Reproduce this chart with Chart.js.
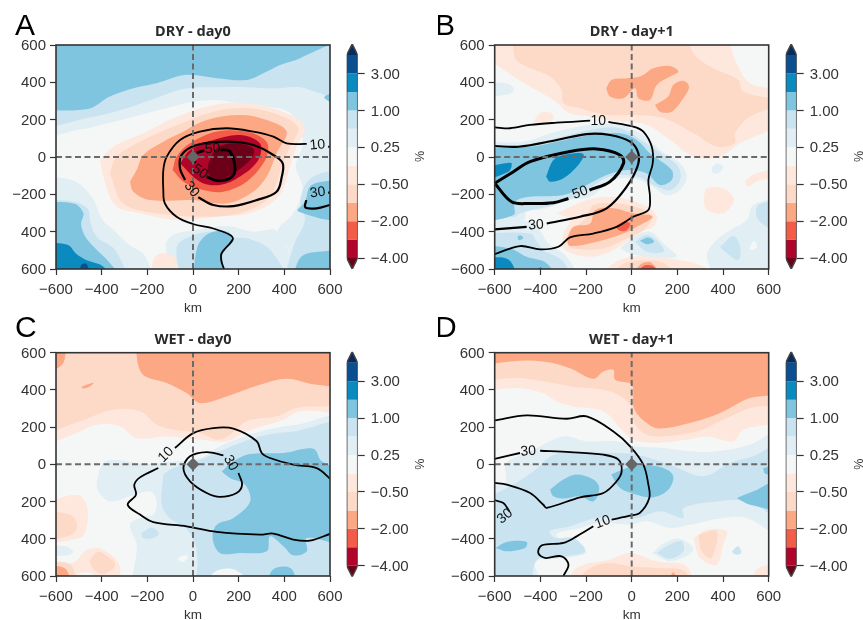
<!DOCTYPE html>
<html>
<head>
<meta charset="utf-8">
<style>
  html, body { margin: 0; padding: 0; background: #fff; width: 863px; height: 620px; overflow: hidden; }
  canvas { position: absolute; }
</style>
<script src="https://cdn.jsdelivr.net/npm/chart.js@4/dist/chart.umd.min.js"></script>
</head>
<body>
<canvas id="panelA"></canvas><canvas id="barA"></canvas>
<canvas id="panelB"></canvas><canvas id="barB"></canvas>
<canvas id="panelC"></canvas><canvas id="barC"></canvas>
<canvas id="panelD"></canvas><canvas id="barD"></canvas>
<script>
// colour bar: band edges from bottom to top, ticks sit on every second edge
const bandColors = ['#6d0019', '#b0052a', '#f25c48', '#fda884', '#fddac7', '#fee8de', '#f5f7f7',
                    '#e1eef4', '#c9e3f0', '#7fc5e0', '#0a8abf', '#0a4f8f', '#052c5f'];
const barTickEdges = [0, 2, 4, 6, 8, 10];
const barTickLabels = ['\u22124.00', '\u22122.00', '\u22120.50', '0.25', '1.00', '3.00'];
const R4 = 0, R3 = 1, R2 = 2, R1 = 3, P2 = 4, P1 = 5, WH = 6, B1 = 7, B2 = 8, B3 = 9, B4 = 10, B5 = 11;

const xTickValues = [-600, -400, -200, 0, 200, 400, 600];
const xTickLabels = ['\u2212600', '\u2212400', '\u2212200', '0', '200', '400', '600'];
const yLabelsA = ['600', '400', '\u2212200', '0', '200', '400', '600'];
const yLabelsB = ['\u2212600', '\u2212400', '\u2212200', '0', '200', '400', '600'];
const yLabelsC = ['600', '400', '200', '0', '200', '400', '600'];
const yLabelsD = ['\u2212600', '\u2212400', '\u2212200', '0', '200', '400', '600'];

// filled contour regions, painted in order: [band, x,y x,y ...] in km
const shapesA = [
  [B1, [-600,600, 600,600, 600,-600, 430,-600, 420,-500, 370,-400, 440,-300, 480,-170, 450,-50, 480,60, 470,150, 420,240, 322,270, 206,287, 104,305, 0,296, -86,272, -232,225, -407,170, -480,150, -600,135]],
  [B1, [-600,-100, -520,-130, -440,-220, -400,-330, -340,-400, -280,-470, -210,-530, -190,-600, -600,-600]],
  [B1, [-70,-600, -120,-480, -90,-420, 20,-390, 150,-370, 260,-400, 370,-400, 430,-600]],
  [B2, [-600,600, 600,600, 600,306, 556,341, 469,374, 352,368, 235,374, 118,374, -28,368, -145,324, -290,261, -437,216, -600,190]],
  [B2, [600,-60, 520,-110, 470,-230, 490,-340, 440,-480, 420,-600, 600,-600]],
  [B2, [-50,-600, -70,-480, 0,-420, 100,-400, 170,-430, 250,-440, 340,-500, 400,-600]],
  [B2, [-600,-230, -520,-240, -460,-280, -450,-350, -420,-430, -340,-500, -300,-600, -600,-600]],
  [B3, [-600,600, 600,600, 469,529, 381,493, 323,458, 235,413, 104,422, -28,440, -159,395, -261,368, -364,324, -466,256, -600,292]],
  [B3, [600,360, 575,320, 600,270]],
  [B3, [600,-120, 520,-150, 490,-240, 460,-290, 600,-330]],
  [B3, [430,-600, 470,-540, 530,-510, 600,-520, 600,-600]],
  [B3, [0,-600, 20,-480, 70,-410, 150,-400, 175,-450, 130,-510, 130,-600]],
  [B3, [-600,-240, -520,-250, -480,-300, -490,-360, -470,-430, -420,-500, -370,-560, -310,-600, -600,-600]],
  [B4, [-600,-460, -550,-470, -510,-520, -470,-550, -390,-590, -370,-600, -600,-600]],
  [B5, [-500,-600, -490,-580, -465,-575, -450,-600]],
  [P1, [-190,-600, -170,-540, -130,-515, -80,-540, -70,-600]],
  [P1, [-407,-16, -349,55, -218,127, -72,216, 89,279, 250,288, 410,234, 490,163, 454,55, 425,-52, 374,-213, 250,-302, 104,-320, -72,-338, -232,-302, -340,-260, -393,-105]],
  [P2, [-364,-88, -334,2, -218,91, -86,163, 89,243, 250,261, 395,216, 461,154, 425,55, 388,-52, 337,-213, 206,-302, 30,-320, -159,-302, -305,-249]],
  [R1, [-276,-132, -247,-70, -218,11, -130,82, -57,127, 60,198, 206,225, 323,198, 410,136, 366,20, 323,-105, 264,-186, 147,-249, 0,-231, -188,-231, -261,-186]],
  [R2, [-89,-70, -72,2, -13,73, 104,136, 235,136, 315,91, 330,46, 308,-34, 235,-132, 133,-186, 45,-177, -42,-132]],
  [R3, [-57,-34, -13,38, 89,91, 206,118, 293,73, 286,-16, 206,-105, 118,-150, 30,-132]],
  [R4, [67,-34, 104,46, 177,73, 264,46, 257,-7, 177,-88, 104,-123, 67,-88]]
];
const contoursA = [
  [1.8, [498,70, 410,73, 352,109, 264,136, 147,154, 30,136, -57,91, -115,2, -130,-70, -130,-177, -123,-249, -72,-320, 0,-359, 89,-383, 163,-418, 174,-442, 125,-517, 125,-561, 136,-600]],
  [1.8, [592,55, 600,55]],
  [2.2, [-35,-123, -57,-61, -50,11, 16,64, 147,82, 264,64, 352,11, 393,-34, 389,-105, 366,-186, 279,-231, 177,-263, 89,-257, 23,-216]],
  [2.2, [600,-257, 542,-275, 492,-270, 496,-231]],
  [2.2, [592,-191, 600,-191]],
  [2.8, [16,23, 50,35]],
  [2.8, [120,40, 162,29, 184,-70, 162,-114, 104,-127, 60,-105]],
  [2.8, [0,0, 10,-30]]
];
const labelsA = [[545,64,'10',-5], [-6,-173,'30',52], [546,-191,'30',-8], [86,43,'50',-5], [31,-79,'50',35]];

const shapesB = [
  [P1, [-600,560, -518,431, -445,377, -343,306, -270,234, -182,216, -66,190, 66,172, 168,91, 270,2, 387,2, 474,73, 600,198, 600,342, 518,395, 460,502, 387,600, -555,600]],
  [P2, [-518,600, -511,529, -460,485, -358,431, -307,359, -299,288, -226,261, -110,225, -7,225, 139,207, 280,120, 372,55, 452,73, 452,127, 518,216, 600,288, 600,300, 489,350, 467,413, 343,485, 270,556, 226,600]],
  [R1, [-112,368, -88,413, -22,422, 36,431, 95,476, 168,488, 204,458, 168,431, 110,386, 80,306, 29,315, 15,368, -36,315, -95,324]],
  [R1, [102,279, 160,324, 182,386, 226,408, 251,377, 226,315, 175,243, 124,243]],
  [P1, [-430,190, -400,235, -350,235, -345,200, -400,180]],
  [B1, [-600,400, -550,395, -515,365, -540,335, -600,335]],
  [B1, [-600,85, -474,82, -328,136, -182,172, -51,172, 51,118, 124,38, 212,-34, 241,-105, 212,-177, 153,-204, 80,-150, 7,-114, -80,-123, -182,-213, -270,-231, -401,-284, -460,-275, -474,-338, -600,-338]],
  [B2, [-600,62, -474,55, -328,100, -182,145, -51,154, 51,82, 139,11, 204,-52, 212,-123, 168,-177, 110,-159, 22,-105, -95,-105, -197,-177, -299,-240, -489,-302, -511,-320, -600,-320]],
  [B3, [-600,46, -445,55, -328,82, -182,118, -51,127, 22,91, 80,20, 175,-70, 175,-123, 124,-150, 66,-88, -22,-70, -110,-97, -197,-150, -299,-204, -445,-213, -511,-240, -518,-311, -600,-320]],
  [B4, [-375,-105, -343,-16, -299,11, -212,16, -234,-43, -299,-114, -358,-132]],
  [B4, [-600,-61, -555,-34, -526,-34, -540,-79, -600,-123]],
  [B1, [-600,-356, -489,-338, -416,-374, -365,-463, -285,-535, -241,-600, -600,-600]],
  [B2, [-600,-410, -445,-410, -416,-454, -387,-499, -299,-561, -277,-600, -600,-600]],
  [B3, [-600,-472, -533,-490, -460,-535, -372,-570, -328,-600, -600,-600]],
  [B3, [-500,-425, -485,-420, -475,-435, -495,-445]],
  [B4, [-600,-544, -540,-549, -511,-600, -600,-600]],
  [B4, [-430,-600, -400,-590, -370,-600]],
  [P1, [-328,-302, -197,-231, -95,-213, -7,-231, 80,-275, 110,-320, 95,-374, 22,-410, -66,-490, -182,-535, -299,-490, -299,-410, -270,-338]],
  [P2, [-277,-410, -197,-320, -168,-257, -66,-249, 36,-275, 88,-320, 51,-392, -36,-445, -124,-490, -255,-490, -285,-454]],
  [R1, [-285,-445, -255,-374, -182,-356, -160,-284, -80,-275, 7,-302, 92,-320, 22,-374, -36,-410, -153,-454, -270,-477]],
  [R2, [-73,-374, -36,-347, -7,-356, -22,-392, -51,-395]],
  [P1, [-160,-600, -60,-555, 60,-530, 170,-545, 300,-580, 380,-600]],
  [P2, [-100,-600, -40,-575, 70,-555, 150,-575, 200,-600]],
  [R1, [-20,-600, 40,-575, 90,-570, 130,-600]],
  [R2, [0,-600, 50,-585, 100,-590, 120,-600]],
  [B1, [-51,-490, 7,-427, 80,-400, 139,-463, 197,-535, 80,-535, -7,-517]],
  [B2, [15,-454, 66,-418, 124,-463, 139,-508, 66,-508]],
  [B3, [36,-449, 73,-431, 98,-454, 66,-467]],
  [B1, [600,-213, 533,-257, 504,-338, 431,-392, 372,-445, 329,-535, 401,-600, 600,-600]],
  [B2, [387,-481, 445,-424, 475,-481, 467,-552, 401,-499]],
  [B2, [600,-231, 555,-257, 555,-338, 600,-410]],
  [WH, [515,-490, 535,-450, 550,-480, 530,-500]],
  [B1, [350,-60, 372,-35, 400,-50, 385,-85, 355,-85]],
  [P1, [495,-130, 540,-90, 600,-60, 600,-100, 550,-130, 510,-160]],
  [P1, [314,-231, 329,-168, 401,-168, 448,-231, 401,-302, 329,-284]]
];
const contoursB = [
  [1.8, [-600,159, -533,154, -445,172, -328,184, -182,195]],
  [1.8, [-102,188, 7,163, 51,136, 88,55, 92,-34, 73,-123, 80,-213, 73,-284, 7,-320, -66,-374, -168,-410, -270,-431, -321,-481, -401,-495, -489,-477, -600,-520]],
  [2.2, [-600,-388, -460,-374]],
  [2.2, [-372,-356, -226,-320, -110,-275, -22,-159, 25,-52, 29,20, -7,82, -95,118, -197,123, -328,91, -496,55, -600,59]],
  [3, [-600,-141, -526,-240, -445,-249, -343,-245, -277,-222]],
  [3, [-185,-177, -95,-132, -36,-34, -51,11, -153,43, -270,29, -445,-25, -518,-79, -600,-141]]
];
const labelsB = [[-146,190,'10',0], [-419,-365,'30',-4], [-226,-191,'50',-20]];

const shapesC = [
  [P1, [-600,88, -510,168, -422,213, -320,204, -247,141, -115,150, 31,132, 147,124, 235,177, 396,240, 469,285, 600,302, 600,600, -600,600]],
  [P2, [-600,150, -495,231, -349,294, -232,285, -159,213, -86,186, 31,168, 104,132, 162,159, 235,231, 366,258, 454,303, 600,347, 600,600, -600,600]],
  [R1, [-254,600, -225,490, -115,437, -28,383, 31,329, 147,365, 293,428, 410,460, 542,428, 600,437, 600,600]],
  [R1, [-600,600, -575,600, -570,540, -600,500]],
  [R1, [-490,415, -460,430, -435,440, -450,420, -480,408]],
  [P1, [-600,-217, -510,-163, -466,-217, -466,-342, -495,-396, -600,-405]],
  [P2, [-600,-245, -540,-270, -510,-310, -515,-360, -560,-390, -600,-390]],
  [P1, [-600,-510, -530,-530, -465,-460, -400,-455, -320,-545, -350,-600, -400,-600, -440,-590, -500,-590, -540,-600, -600,-600]],
  [P2, [-455,-520, -420,-470, -390,-480, -340,-540, -390,-590, -430,-570]],
  [P2, [-600,-525, -550,-530, -520,-570, -520,-600, -600,-600]],
  [R1, [-600,-545, -560,-560, -545,-600, -600,-600]],
  [B1, [-422,-91, -393,7, -334,25, -218,2, -130,10, 31,34, 104,88, 206,141, 323,186, 454,213, 600,240, 600,-600, -239,-600, -247,-431, -276,-324, -232,-288, -174,-270, -159,-199, -188,-145, -276,-172, -364,-199, -415,-145]],
  [B1, [-600,-440, -560,-440, -525,-470, -555,-490, -600,-480]],
  [B2, [-130,-55, -86,-20, 31,25, 118,70, 206,115, 323,159, 440,177, 600,204, 600,-600, 30,-600, 20,-520, 10,-430, -30,-345, -101,-290, -137,-217]],
  [B2, [-225,-370, -180,-340, -150,-375, -190,-400, -220,-395]],
  [B3, [126,-38, 177,16, 250,55, 396,61, 527,84, 564,16, 600,-55, 600,-413, 498,-396, 498,-467, 439,-489, 396,-440, 337,-387, 323,-467, 206,-476, 118,-476, 86,-396, 104,-324, 177,-288, 250,-199, 228,-109, 162,-73]],
  [B3, [323,-600, 350,-565, 430,-560, 445,-600]],
  [WH, [40,-600, 100,-575, 190,-570, 260,-600]],
  [WH, [-70,-510, -45,-490, -20,-495, -45,-525]]
];
const contoursC = [
  [1.8, [-79,88, 1,168, 89,195, 177,192, 279,124, 301,61, 337,34, 439,-2, 542,-20, 600,-77]],
  [1.8, [-152,-20, -232,-70, -257,-109, -250,-163, -286,-217, -232,-270, -174,-310, -28,-333, 104,-363, 293,-378, 352,-372, 439,-404, 512,-410, 600,-374]],
  [1.8, [133,48, 60,66, -13,43, -42,-20, -13,-91, 60,-154, 118,-175, 191,-154, 215,-109, 199,-47]]
];
const labelsC = [[-118,52,'10',-45], [165,7,'30',60]];

const shapesD = [
  [B1, [-555,0, -533,25, -445,70, -299,150, -197,124, -66,124, 7,97, 139,88, 255,70, 372,70, 518,106, 600,186, 600,-380, 504,-288, 401,-288, 255,-324, 168,-342, 66,-306, -7,-324, -139,-315, -226,-342, -330,-380, -200,-470, -270,-500, -400,-510, -431,-521, -416,-575, -401,-600, -600,-600, -600,-100, -559,-109]],
  [B2, [-600,-199, -533,-118, -431,-38, -330,55, -95,61, 22,52, 168,-2, 314,-64, 431,7, 533,43, 600,115, 600,-306, 518,-199, 372,-199, 226,-234, 226,-288, 124,-252, 22,-288, -153,-288, -270,-333, -358,-360, -336,-396, -255,-396, -204,-467, -299,-494, -401,-503, -431,-557, -440,-600, -600,-600]],
  [B3, [-90,-55, -22,-20, 51,-5, 139,-20, 182,-64, 160,-136, 95,-177, 22,-163, -51,-127]],
  [B3, [-358,-136, -299,-82, -241,-55, -168,-82, -142,-127, -168,-199, -226,-172, -299,-184, -343,-172]],
  [B3, [460,-181, 533,-145, 600,-73, 600,-238, 518,-217]],
  [B3, [575,-20, 600,0, 600,-60, 585,-50]],
  [B3, [-596,-449, -548,-417, -460,-417, -467,-449, -548,-467]],
  [B1, [90,-476, 140,-425, 210,-400, 270,-460, 170,-520]],
  [B2, [110,-476, 153,-440, 219,-413, 226,-467, 168,-507]],
  [B2, [438,-470, 465,-440, 480,-475, 455,-485]],
  [P1, [-285,-600, -241,-557, -95,-512, -7,-476, 110,-521, 241,-548, 255,-600]],
  [P2, [-270,-600, -182,-557, -95,-530, -7,-548, 110,-557, 234,-575, 241,-600]],
  [R1, [153,-600, 182,-580, 204,-600]],
  [P1, [270,-396, 329,-351, 416,-360, 401,-431, 372,-539, 299,-503]],
  [P2, [292,-378, 372,-360, 350,-503, 307,-467]],
  [P1, [518,-600, 555,-557, 600,-557, 600,-600]],
  [P1, [-600,383, -518,410, -387,383, -329,338, -255,311, -124,285, -51,195, 7,132, 110,115, 241,132, 329,150, 445,124, 489,186, 600,258, 600,600, -600,600]],
  [P2, [-600,446, -504,464, -387,446, -270,419, -95,392, -7,320, 7,231, 51,168, 124,150, 285,177, 401,240, 518,303, 600,347, 600,600, -600,600]],
  [R1, [-600,526, -533,553, -387,553, -270,517, -168,460, -124,499, -80,508, -73,455, 0,428, 10,302, 66,222, 124,192, 270,227, 387,276, 518,356, 600,401, 600,600, -600,600]]
];
const contoursD = [
  [1.8, [-600,236, -460,263, -285,245, -197,258, -80,177, -7,97, 51,-2, 73,-109, 77,-181, 36,-261, -7,-276, -88,-297]],
  [1.8, [-168,-333, -241,-387, -299,-422, -394,-435, -409,-476, -380,-503, -307,-494, -277,-539, -299,-600]],
  [1.8, [-600,30, -489,61]],
  [1.8, [-401,73, -270,66, -124,52, -58,25, -44,-38, -66,-91, -124,-154, -226,-177, -372,-234, -387,-217, -445,-154, -548,-109, -600,-100]],
  [1.8, [-600,-193, -562,-208, -536,-252]]
];
const labelsD = [[-127,-311,'10',-20], [-453,70,'30',-4], [-555,-279,'30',-40]];

const plotCorners = [-600,-600, 600,-600, 600,600, -600,600];
const dotX = [0];
const dotY = [0];

const labelFont = '"Liberation Sans", Arial, sans-serif';
const inkColor = '#333333';

// points on the plot edge get pushed out, the spline would round the corner off otherwise
function ring(flat) {
  const pts = [];
  for (let i = 0; i < flat.length; i += 2) {
    const px = Math.abs(flat[i]) >= 600 ? flat[i] * 1.12 : flat[i];
    const py = Math.abs(flat[i + 1]) >= 600 ? flat[i + 1] * 1.12 : flat[i + 1];
    pts.push({x: px, y: py});
  }
  pts.push({x: pts[0].x, y: pts[0].y});
  return pts;
}

function path(flat) {
  const pts = [];
  for (let i = 0; i < flat.length; i += 2) pts.push({x: flat[i], y: flat[i + 1]});
  return pts;
}

const panelDecor = {
  id: 'panelDecor',
  afterDatasetsDraw(chart, args, opts) {
    const ctx = chart.ctx;
    const area = chart.chartArea;
    ctx.save();
    ctx.strokeStyle = inkColor;
    ctx.lineWidth = 1.6;
    ctx.strokeRect(area.left, area.top, area.width, area.height);

    ctx.fillStyle = '#111';
    ctx.font = '14px ' + labelFont;
    ctx.textAlign = 'center';
    ctx.textBaseline = 'middle';
    opts.labels.forEach(l => {
      ctx.save();
      ctx.translate(chart.scales.x.getPixelForValue(l[0]), chart.scales.y.getPixelForValue(l[1]));
      ctx.rotate(l[3] * Math.PI / 180);
      ctx.fillText(l[2], 0, 0);
      ctx.restore();
    });

    ctx.fillStyle = '#2b2b2b';
    ctx.font = 'bold 14.5px "Noto Sans", sans-serif';
    ctx.fillText(opts.title, (area.left + area.right) / 2, area.top - 13);

    ctx.fillStyle = '#000';
    ctx.font = '30px ' + labelFont;
    ctx.textAlign = 'left';
    ctx.textBaseline = 'alphabetic';
    ctx.fillText(opts.letter, opts.letterX, opts.letterY);
    ctx.restore();
  }
};

function makePanel(id, place, title, letter, yLabels, shapes, contours, labels) {
  const canvas = document.getElementById(id);
  canvas.width = place.w;
  canvas.height = place.h;
  canvas.style.left = place.left + 'px';
  canvas.style.top = place.top + 'px';

  const datasets = [];
  [[WH, plotCorners]].concat(shapes).forEach((s, i) => datasets.push({
    data: ring(s[1]), showLine: true, fill: 'shape', tension: i === 0 ? 0 : 0.35,
    backgroundColor: bandColors[s[0]], borderWidth: 0, pointRadius: 0
  }));
  contours.forEach(c => datasets.push({
    data: path(c[1]), showLine: true, fill: false, tension: 0.35,
    borderColor: '#000', borderWidth: c[0], pointRadius: 0
  }));
  datasets.push({
    data: [{x: -600, y: 0}, {x: 600, y: 0}], showLine: true, fill: false,
    borderColor: '#6a6a6a', borderWidth: 2, borderDash: [6, 3.5], pointRadius: 0
  });
  datasets.push({
    data: [{x: 0, y: -600}, {x: 0, y: 600}], showLine: true, fill: false,
    borderColor: '#6a6a6a', borderWidth: 2, borderDash: [6, 3.5], pointRadius: 0
  });
  datasets.push({
    data: dotX.map((v, i) => ({x: v, y: dotY[i]})), showLine: false,
    pointStyle: 'rectRot', pointRadius: 6.5, backgroundColor: '#666', borderWidth: 0
  });

  const tickStyle = {display: true, drawOnChartArea: false, drawTicks: true, tickLength: 6, tickColor: inkColor, tickWidth: 1.2};
  new Chart(canvas, {
    type: 'scatter',
    data: {datasets: datasets.reverse()},
    options: {
      responsive: false,
      animation: false,
      layout: {padding: {top: place.plotTop, right: place.w - place.plotRight, left: 0, bottom: 0}},
      plugins: {
        legend: {display: false},
        tooltip: {enabled: false},
        panelDecor: {labels: labels, title: title, letter: letter, letterX: place.letterX, letterY: place.letterY}
      },
      scales: {
        x: {
          type: 'linear', min: -600, max: 600,
          afterFit(s) { s.height = place.h - place.plotBottom; s.paddingLeft = 0; s.paddingRight = 0; },
          afterBuildTicks(s) { s.ticks = xTickValues.map(v => ({value: v})); },
          grid: tickStyle, border: {display: false},
          ticks: {
            color: inkColor, font: {family: labelFont, size: 15}, padding: 6, maxRotation: 0, autoSkip: false,
            callback: v => xTickLabels[xTickValues.indexOf(v)]
          },
          title: {display: true, text: 'km', color: inkColor, font: {family: labelFont, size: 13.5}, padding: 0}
        },
        y: {
          type: 'linear', min: -600, max: 600,
          afterFit(s) { s.width = place.plotLeft; s.paddingTop = 0; s.paddingBottom = 0; },
          afterBuildTicks(s) { s.ticks = xTickValues.map(v => ({value: v})); },
          grid: tickStyle, border: {display: false},
          ticks: {
            color: inkColor, font: {family: labelFont, size: 15}, padding: 4, autoSkip: false, labelOffset: 1,
            callback: v => yLabels[xTickValues.indexOf(v)]
          }
        }
      }
    },
    plugins: [panelDecor]
  });
}

const barDecor = {
  id: 'barDecor',
  afterDraw(chart) {
    const ctx = chart.ctx;
    ctx.save();
    ctx.fillStyle = inkColor;
    ctx.font = '12.5px ' + labelFont;
    ctx.textAlign = 'center';
    ctx.textBaseline = 'middle';
    ctx.translate(chart.chartArea.right + 62.5, chart.scales.y.getPixelForValue(5.5));
    ctx.rotate(-Math.PI / 2);
    ctx.fillText('%', 0, 0);
    ctx.restore();
  }
};

function makeColorBar(id, left, top, plotTop) {
  const canvas = document.getElementById(id);
  canvas.width = 90;
  canvas.height = 315;
  canvas.style.left = left + 'px';
  canvas.style.top = top + 'px';

  const edgeCount = bandColors.length - 1;   // 12 edges, 11 inner bands
  const tip = 0.6;
  const datasets = [];
  datasets.push({
    data: [{x: 0, y: 0}, {x: 1, y: 0}, {x: 0.5, y: -tip}, {x: 0, y: 0}],
    showLine: true, fill: 'shape', backgroundColor: bandColors[0], borderWidth: 0, pointRadius: 0
  });
  for (let i = 0; i < edgeCount - 1; i++) {
    datasets.push({
      data: [{x: 0, y: i}, {x: 1, y: i}, {x: 1, y: i + 1}, {x: 0, y: i + 1}, {x: 0, y: i}],
      showLine: true, fill: 'shape', backgroundColor: bandColors[i + 1], borderWidth: 0, pointRadius: 0
    });
  }
  datasets.push({
    data: [{x: 0, y: edgeCount - 1}, {x: 1, y: edgeCount - 1}, {x: 0.5, y: edgeCount - 1 + tip}, {x: 0, y: edgeCount - 1}],
    showLine: true, fill: 'shape', backgroundColor: bandColors[edgeCount], borderWidth: 0, pointRadius: 0
  });
  datasets.push({
    data: [{x: 0, y: 0}, {x: 0.5, y: -tip}, {x: 1, y: 0}, {x: 1, y: edgeCount - 1}, {x: 0.5, y: edgeCount - 1 + tip}, {x: 0, y: edgeCount - 1}, {x: 0, y: 0}],
    showLine: true, fill: false, borderColor: '#444', borderWidth: 1.5, pointRadius: 0
  });

  new Chart(canvas, {
    type: 'scatter',
    data: {datasets: datasets.reverse()},
    options: {
      responsive: false,
      animation: false,
      layout: {padding: {top: plotTop, bottom: 315 - plotTop - 225.1, left: 6.7, right: 0}},
      plugins: {legend: {display: false}, tooltip: {enabled: false}},
      scales: {
        x: {type: 'linear', min: 0, max: 1, display: false},
        y: {
          type: 'linear', position: 'right', min: -tip, max: edgeCount - 1 + tip,
          afterFit(s) { s.width = 72.3; s.paddingTop = 0; s.paddingBottom = 0; },
          afterBuildTicks(s) { s.ticks = barTickEdges.map(v => ({value: v})); },
          grid: {display: true, drawOnChartArea: false, drawTicks: true, tickLength: 7, tickColor: inkColor, tickWidth: 1.2},
          border: {display: false},
          ticks: {
            color: inkColor, font: {family: labelFont, size: 15}, padding: 6, autoSkip: false, labelOffset: 1,
            callback: v => barTickLabels[barTickEdges.indexOf(v)]
          }
        }
      }
    },
    plugins: [barDecor]
  });
}

const topRow = {top: 0, h: 316, plotTop: 45, plotBottom: 269, letterY: 35};
const lowRow = {top: 310, h: 313, plotTop: 42.7, plotBottom: 266, letterY: 27};
const leftCol = {left: 0, w: 345, plotLeft: 56, plotRight: 330, letterX: 15};
const rightCol = {left: 438, w: 345, plotLeft: 56.7, plotRight: 330.7, letterX: -3};

makePanel('panelA', {...topRow, ...leftCol}, 'DRY - day0', 'A', yLabelsA, shapesA, contoursA, labelsA);
makePanel('panelB', {...topRow, ...rightCol}, 'DRY - day+1', 'B', yLabelsB, shapesB, contoursB, labelsB);
makePanel('panelC', {...lowRow, ...leftCol}, 'WET - day0', 'C', yLabelsC, shapesC, contoursC, labelsC);
makePanel('panelD', {...lowRow, ...rightCol}, 'WET - day+1', 'D', yLabelsD, shapesD, contoursD, labelsD);

makeColorBar('barA', 340, 0, 44);
makeColorBar('barB', 778.7, 0, 44);
makeColorBar('barC', 340, 310, 41.7);
makeColorBar('barD', 778.7, 310, 41.7);
</script>
</body>
</html>
